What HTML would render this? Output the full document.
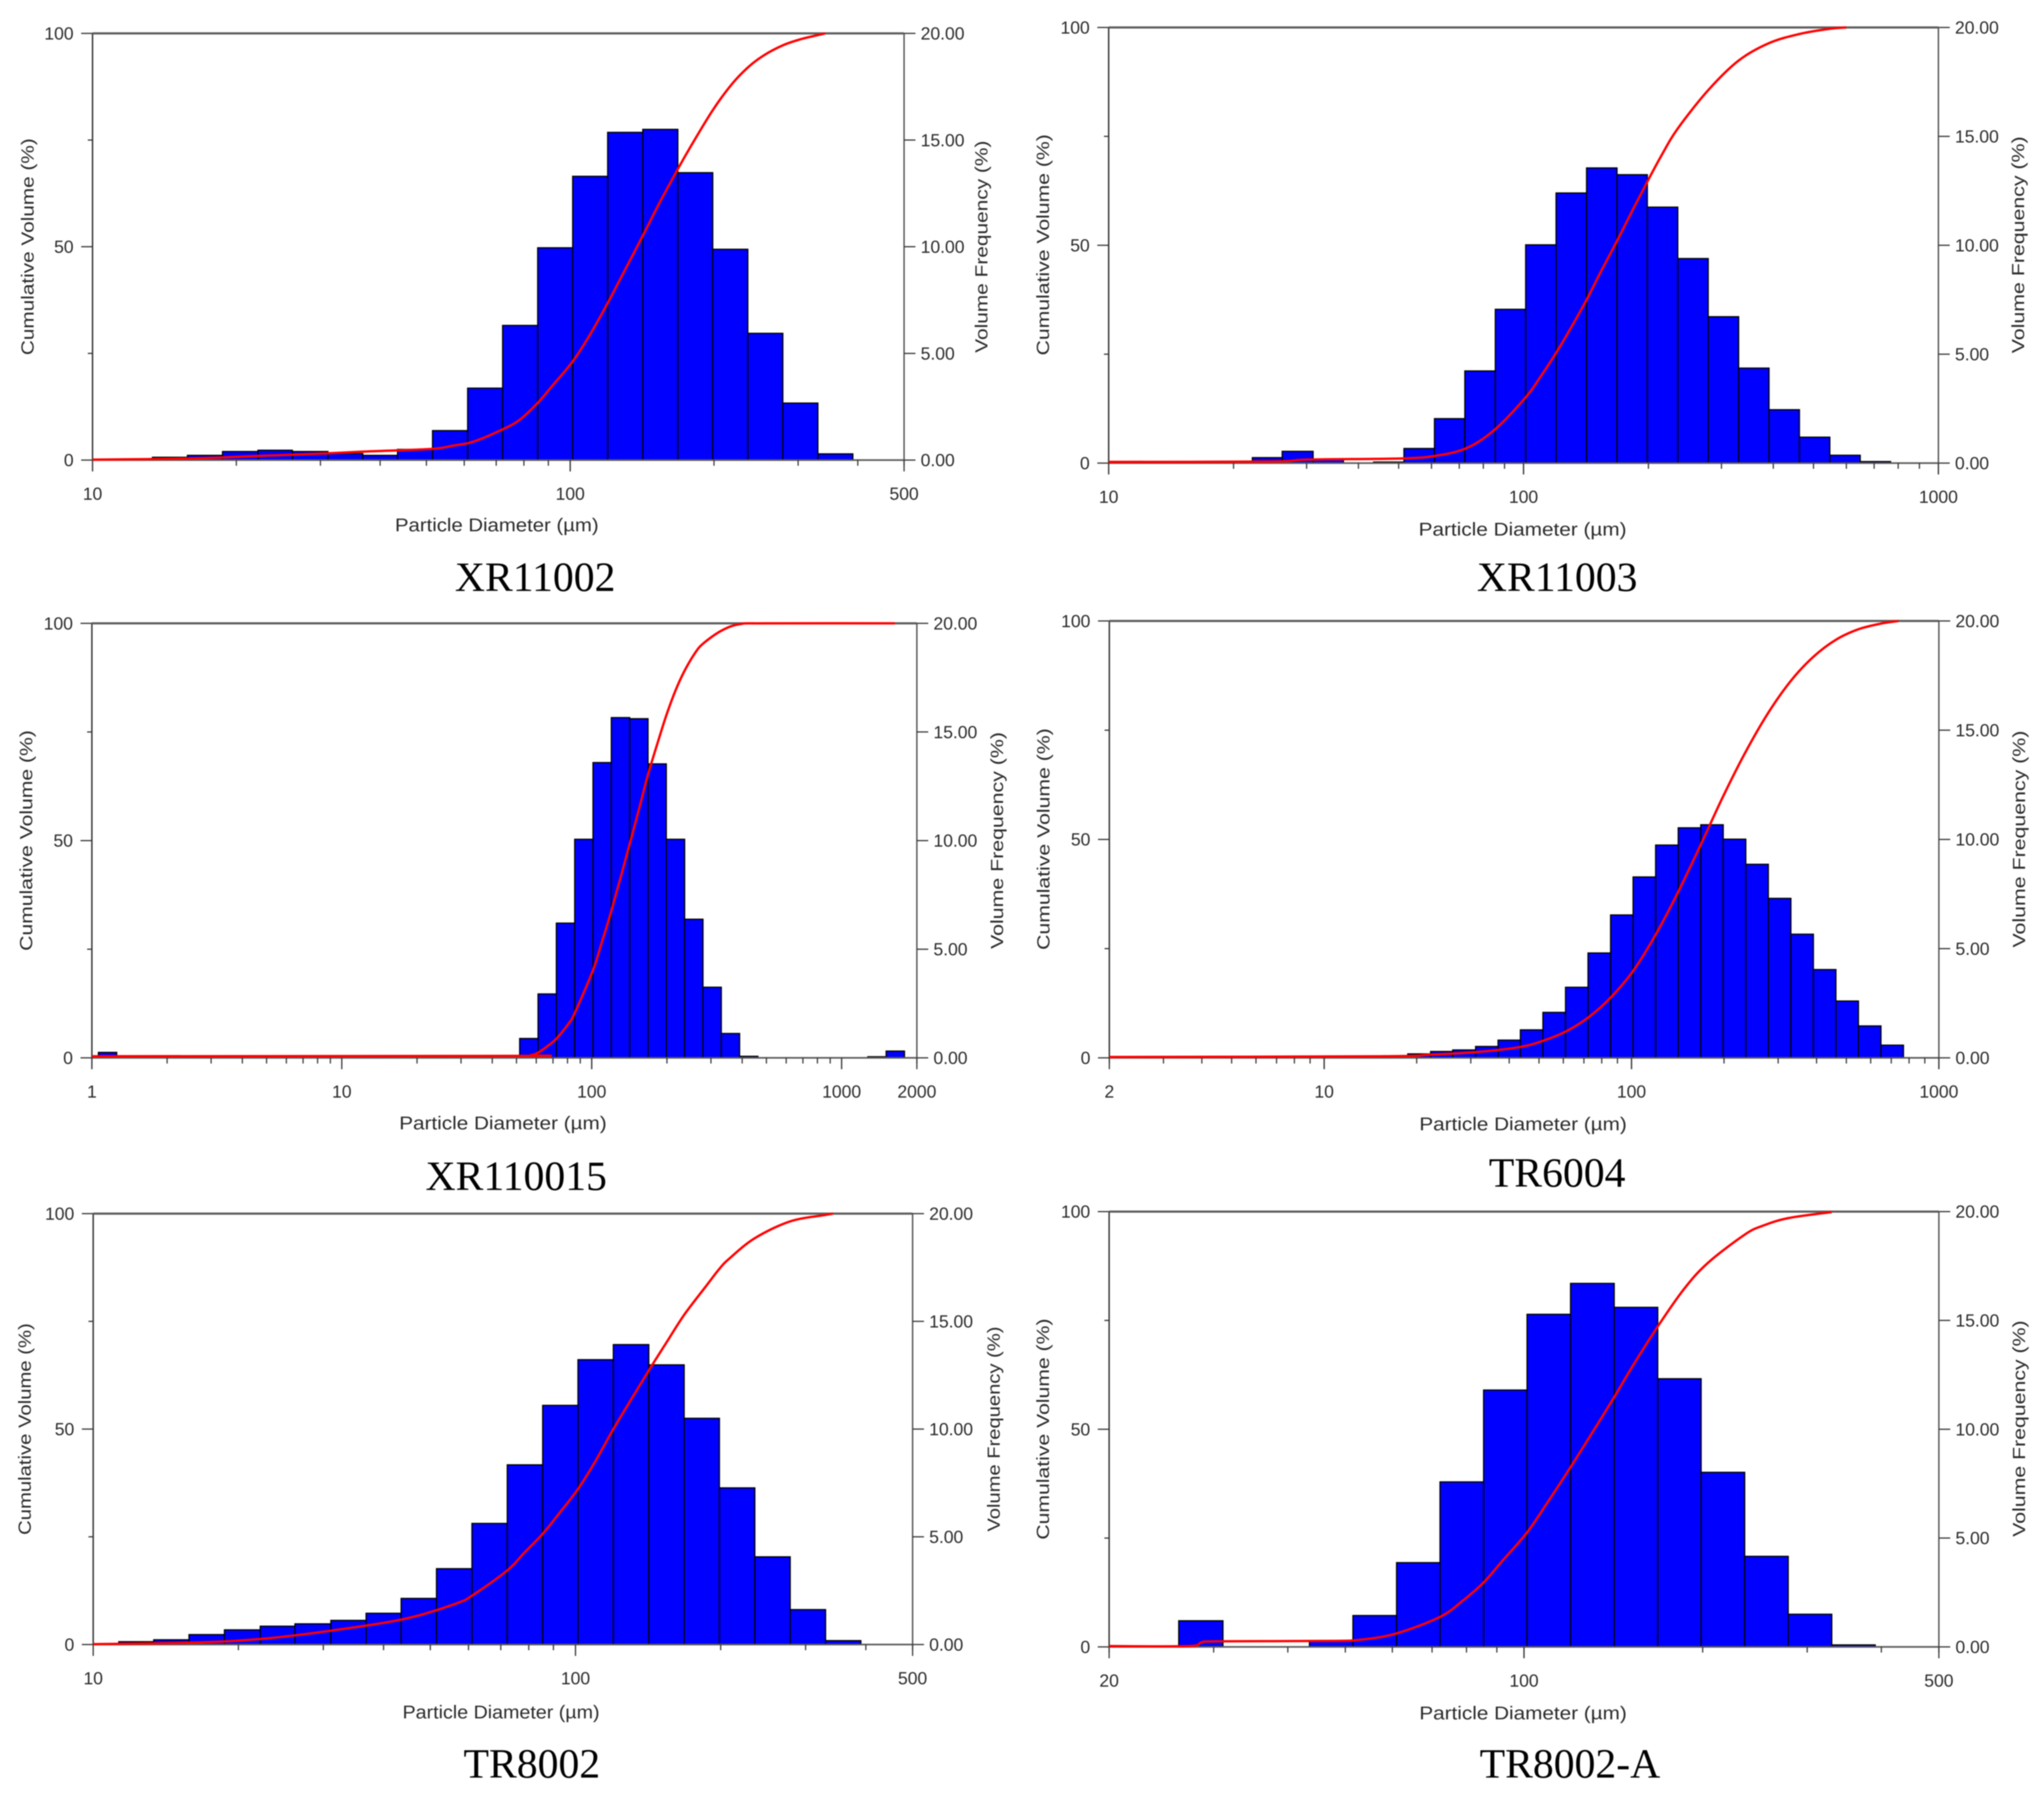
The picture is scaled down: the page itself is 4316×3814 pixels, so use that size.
<!DOCTYPE html>
<html lang="en">
<head>
<meta charset="utf-8">
<title>Particle size distributions</title>
<style>
html,body{margin:0;padding:0;background:#fff;}
#chart{display:block;width:4316px;height:3814px;filter:blur(1.1px);}
text{font-family:"Liberation Sans",sans-serif;fill:#2a2a2a;}
.caption{font-family:"Liberation Serif",serif;font-size:88px;fill:#000;text-anchor:middle;}
</style>
</head>
<body>
<svg id="chart" xmlns="http://www.w3.org/2000/svg" width="4316" height="3814" viewBox="0 0 4316 3814"></svg>
<script>
// ---- shared tick data ----
const leftMajorTicks = [0, 50, 100];
const leftMinorTicks = [25, 75];
const rightTicks = [0, 5, 10, 15, 20];

// ---- XR11002 ----
const xr11002Edges = [13.35,15.8,18.71,22.2,26.2,31.1,36.8,43.5,51.5,61,72.2,85.5,101.2,119.8,141.9,168,198.8,235.4,278.7,330,390.6];
const xr11002Freq = [0.13,0.22,0.40,0.46,0.40,0.30,0.22,0.50,1.38,3.37,6.31,9.95,13.3,15.36,15.5,13.47,9.88,5.94,2.67,0.29];
const xr11002CumD = [10,15.9,21.8,30.8,37.2,50.9,57,62.8,72.2,78.3,85.5,92.2,101.2,110,119.8,130,141.9,154,168,179,198.8,218,235.4,253.9,278.7,303,330,342];
const xr11002CumPct = [0.1,0.37,0.92,1.56,2.0,2.6,3.4,4.34,7.2,9.4,13.4,17.7,23.1,29.4,36.8,44.4,52.6,60.4,68.2,73.6,82,88.1,92,94.8,97.2,98.6,99.6,100];
const xr11002XLabels = [10,100,500];

// ---- XR11003 ----
const xr11003Edges = [22.2,26.2,31.1,36.8,43.5,51.5,61,72.2,85.5,101.2,119.8,141.9,168,198.8,235.4,278.7,330,390.6,462.4,547.4,648,767];
const xr11003Freq = [0.25,0.54,0.16,0,0.05,0.67,2.04,4.23,7.06,10.02,12.4,13.55,13.24,11.75,9.39,6.72,4.36,2.45,1.19,0.36,0.07];
const xr11003CumD = [10,24.4,30.4,51.3,62.6,73.5,85.5,101.2,110,119.8,130,141.9,153.7,168,183,198.8,215,235.4,278.7,330,390.6,462.4,547.4,600];
const xr11003CumPct = [0.27,0.36,0.81,1.08,1.8,3.6,7.8,15.1,19.9,25.3,31,37.5,44,51,58,64.6,70.6,76.8,85.6,92.4,96.4,98.5,99.7,100];
const xr11003XLabels = [10,100,1000];

// ---- XR110015 ----
const xr110015Edges = [1.062,1.257,51.5,61,72.2,85.5,101.2,119.8,141.9,168,198.8,235.4,278.7,330,390.6,462.4,1273,1507,1784];
const xr110015Freq = [0.25,0,0.89,2.94,6.2,10.06,13.59,15.66,15.61,13.53,10.06,6.38,3.25,1.12,0.07,0,0.05,0.31];
const xr110015CumD = [1,49.2,57,61,66.2,72.2,80.6,85.5,101.2,110,119.8,141.9,155,168,184.7,198.8,216.6,234.9,258,278.7,330,390.6,500,1631];
const xr110015CumPct = [0.36,0.45,0.6,1.2,2.6,4.4,7.8,10.3,20.2,26.8,33.8,49.2,57.5,65.2,73,78.8,84.6,89,93,95.3,98.3,99.8,100,100];
const xr110015XLabels = [1,10,100,1000,2000];

// ---- TR6004 ----
const tr6004Edges = [18.71,22.2,26.2,31.1,36.8,43.5,51.5,61,72.2,85.5,101.2,119.8,141.9,168,198.8,235.4,278.7,330,390.6,462.4,547.4,648,767];
const tr6004Freq = [0.18,0.29,0.36,0.52,0.81,1.28,2.08,3.23,4.8,6.54,8.28,9.74,10.53,10.67,10.01,8.86,7.3,5.66,4.04,2.6,1.46,0.58];
const tr6004CumD = [2,15.3,22,31.8,43.5,51.5,61,72.2,85.5,101.2,119.8,141.9,168,198.8,235.4,278.7,330,390.6,462.4,547.4,648,739];
const tr6004CumPct = [0.18,0.36,0.72,1.35,2.5,3.9,6.0,9.2,13.8,19.9,28.2,38,48.8,59.9,70.1,79,86.3,91.8,95.7,98.1,99.4,100];
const tr6004XLabels = [2,10,100,1000];

// ---- TR8002 ----
const tr8002Edges = [11.3,13.35,15.8,18.71,22.2,26.2,31.1,36.8,43.5,51.5,61,72.2,85.5,101.2,119.8,141.9,168,198.8,235.4,278.7,330,390.6];
const tr8002Freq = [0.13,0.22,0.46,0.68,0.85,0.96,1.12,1.45,2.14,3.52,5.62,8.34,11.1,13.22,13.92,12.98,10.5,7.27,4.07,1.62,0.18];
const tr8002CumD = [10,16.3,22.2,30.3,44,56.5,61.5,72.2,78.3,85.5,92.6,101.2,109.5,119.8,130,141.9,154.6,168,186,198.8,208.6,235.4,278.7,330,342];
const tr8002CumPct = [0.09,0.46,1.29,3.04,5.9,9.5,11.6,17.2,21.3,25.7,30.5,36.1,42.2,50,56.6,63.6,70.2,76.5,83,87.2,89.6,94.3,98.2,99.7,100];
const tr8002XLabels = [10,100,500];

// ---- TR8002-A ----
const tr8002aEdges = [26.2,31.1,36.8,43.5,51.5,61,72.2,85.5,101.2,119.8,141.9,168,198.8,235.4,278.7,330,390.6];
const tr8002aFreq = [1.2,0,0,0.27,1.44,3.87,7.58,11.8,15.28,16.7,15.6,12.32,8.02,4.16,1.5,0.09];
const tr8002aCumD = [20,27.2,28.6,30.4,46.7,53,61,72.2,79,85.5,92,101.2,109.8,119.8,130,141.9,152.4,168,186,204,235.4,252,278.7,330];
const tr8002aCumPct = [0.18,0.18,1.0,1.28,1.37,1.64,3.1,6.9,10.7,14.8,19.8,26.3,33.4,41.3,49,57.4,64.5,73.6,82.2,88.2,94.7,96.7,98.5,99.9];
const tr8002aXLabels = [20,100,500];

// ---- panel layout (frames and label placement only) ----
const panels = [
 {id:'xr11002', cap:'XR11002', edges:xr11002Edges, freq:xr11002Freq, cumD:xr11002CumD, cumPct:xr11002CumPct, xLabels:xr11002XLabels,
  l:195.4,r:1909,t:70.5,b:971.6, capX:1130,capY:1248, xtX:1049,xtY:1108,xtW:430, ltX:58,ltY:521,ltW:458, rtX:2072,rtY:521,rtW:448},
 {id:'xr11003', cap:'XR11003', edges:xr11003Edges, freq:xr11003Freq, cumD:xr11003CumD, cumPct:xr11003CumPct, xLabels:xr11003XLabels,
  l:2341,r:4093,t:58,b:978, capX:3288,capY:1248, xtX:3215,xtY:1117,xtW:439, ltX:2202,ltY:517,ltW:467, rtX:4261,rtY:517,rtW:458},
 {id:'xr110015', cap:'XR110015', edges:xr110015Edges, freq:xr110015Freq, cumD:xr110015CumD, cumPct:xr110015CumPct, xLabels:xr110015XLabels,
  l:194,r:1936,t:1316.4,b:2234, capX:1090,capY:2513, xtX:1062,xtY:2371,xtW:438, ltX:55,ltY:1775,ltW:466, rtX:2105,rtY:1775,rtW:458},
 {id:'tr6004', cap:'TR6004', edges:tr6004Edges, freq:tr6004Freq, cumD:tr6004CumD, cumPct:tr6004CumPct, xLabels:tr6004XLabels,
  l:2342.4,r:4094,t:1311.4,b:2234, capX:3288,capY:2506, xtX:3216,xtY:2373,xtW:438, ltX:2203,ltY:1772,ltW:468, rtX:4263,rtY:1772,rtW:458},
 {id:'tr8002', cap:'TR8002', edges:tr8002Edges, freq:tr8002Freq, cumD:tr8002CumD, cumPct:tr8002CumPct, xLabels:tr8002XLabels,
  l:196.8,r:1927,t:2563,b:3473, capX:1123,capY:3754, xtX:1058,xtY:3615,xtW:416, ltX:52,ltY:3018,ltW:447, rtX:2098,rtY:3018,rtW:433},
 {id:'tr8002-a', cap:'TR8002-A', edges:tr8002aEdges, freq:tr8002aFreq, cumD:tr8002aCumD, cumPct:tr8002aCumPct, xLabels:tr8002aXLabels,
  l:2342,r:4094,t:2558.7,b:3478, capX:3315,capY:3754, xtX:3216,xtY:3617,xtW:438, ltX:2202,ltY:3018,ltW:467, rtX:4263,rtY:3017,rtW:457}
];

const NS = 'http://www.w3.org/2000/svg';
const svg = document.getElementById('chart');

function make(tag, parent, props) {
  const node = document.createElementNS(NS, tag);
  for (const k in props) node.setAttribute(k, props[k]);
  parent.appendChild(node);
  return node;
}

function smoothPath(pts) {
  let d = 'M' + pts[0][0].toFixed(1) + ' ' + pts[0][1].toFixed(1);
  for (let i = 0; i < pts.length - 1; i++) {
    const p0 = pts[Math.max(0, i - 1)], p1 = pts[i], p2 = pts[i + 1], p3 = pts[Math.min(pts.length - 1, i + 2)];
    const c1x = p1[0] + (p2[0] - p0[0]) / 6, c1y = p1[1] + (p2[1] - p0[1]) / 6;
    const c2x = p2[0] - (p3[0] - p1[0]) / 6, c2y = p2[1] - (p3[1] - p1[1]) / 6;
    d += 'C' + c1x.toFixed(1) + ' ' + c1y.toFixed(1) + ' ' + c2x.toFixed(1) + ' ' + c2y.toFixed(1) + ' ' + p2[0].toFixed(1) + ' ' + p2[1].toFixed(1);
  }
  return d;
}

function minorDecadeTicks(min, max) {
  const out = [];
  for (let dec = Math.floor(Math.log10(min)); dec <= Math.ceil(Math.log10(max)); dec++) {
    for (let m = 1; m <= 9; m++) {
      const v = m * Math.pow(10, dec);
      if (v >= min && v <= max) out.push(v);
    }
  }
  return out;
}

function drawPanel(p) {
  const xMin = p.xLabels[0], xMax = p.xLabels[p.xLabels.length - 1];
  const xScale = v => p.l + (p.r - p.l) * Math.log10(v / xMin) / Math.log10(xMax / xMin);
  const yFreq = v => p.b - (p.b - p.t) * v / 20;
  const yCum = v => p.b - (p.b - p.t) * v / 100;

  const g = make('g', svg, {});
  
  

  // histogram bars
  const barGroup = make('g', g, {});
  
  
  p.freq.forEach((v, i) => {
    if (v <= 0) return;
    const x0 = xScale(p.edges[i]), x1 = xScale(p.edges[i + 1]);
    const rect = make('rect', barGroup, {x: x0, y: yFreq(v), width: x1 - x0, height: p.b - yFreq(v), fill: '#0000ff', stroke: '#000', 'stroke-width': 2.6});
    
    
  });

  // axis lines
  const frame = make('g', g, {});
  
  
  make('line', frame, {x1: p.l, x2: p.l, y1: p.t, y2: p.b, stroke: '#333', 'stroke-width': 3});
  make('line', frame, {x1: p.r, x2: p.r, y1: p.t, y2: p.b, stroke: '#555', 'stroke-width': 3});
  make('line', frame, {x1: p.l, x2: p.r, y1: p.t, y2: p.t, stroke: '#5a5a5a', 'stroke-width': 4.5});
  make('line', frame, {x1: p.l, x2: p.r, y1: p.b, y2: p.b, stroke: '#5a5a5a', 'stroke-width': 3.5});

  // x ticks
  minorDecadeTicks(xMin, xMax).forEach(v => {
    const major = Math.abs(Math.log10(v) - Math.round(Math.log10(v))) < 1e-6;
    make('line', frame, {x1: xScale(v), x2: xScale(v), y1: p.b, y2: p.b + (major ? 24 : 12), stroke: '#333', 'stroke-width': 2.5});
  });
  p.xLabels.forEach(v => {
    make('line', frame, {x1: xScale(v), x2: xScale(v), y1: p.b, y2: p.b + 24, stroke: '#333', 'stroke-width': 2.5});
    const t = make('text', g, {x: xScale(v), y: p.b + 84, 'font-size': 37, 'text-anchor': 'middle'});
    
    
    t.textContent = String(v);
  });

  // left ticks
  leftMajorTicks.forEach(v => {
    make('line', frame, {x1: p.l - 24, x2: p.l, y1: yCum(v), y2: yCum(v), stroke: '#333', 'stroke-width': 2.5});
    const t = make('text', g, {x: p.l - 40, y: yCum(v) + 13, 'font-size': 37, 'text-anchor': 'end'});
    
    
    t.textContent = String(v);
  });
  leftMinorTicks.forEach(v => {
    make('line', frame, {x1: p.l - 10, x2: p.l, y1: yCum(v), y2: yCum(v), stroke: '#333', 'stroke-width': 2.5});
  });

  // right ticks
  rightTicks.forEach(v => {
    make('line', frame, {x1: p.r, x2: p.r + 24, y1: yFreq(v), y2: yFreq(v), stroke: '#333', 'stroke-width': 2.5});
    const t = make('text', g, {x: p.r + 35, y: yFreq(v) + 13, 'font-size': 37});
    
    
    t.textContent = v.toFixed(2);
  });

  // cumulative curve
  const pts = p.cumD.map((d, i) => [xScale(d), yCum(p.cumPct[i])]);
  const curve = make('path', g, {d: smoothPath(pts), fill: 'none', stroke: '#ff0000', 'stroke-width': 5, 'stroke-linejoin': 'round'});
  
  

  // axis titles
  const xt = make('text', g, {x: p.xtX, y: p.xtY + 14, 'font-size': 39, 'text-anchor': 'middle', textLength: p.xtW, lengthAdjust: 'spacingAndGlyphs'});
  
  
  xt.textContent = 'Particle Diameter (µm)';

  const lt = make('text', g, {transform: 'translate(' + (p.ltX + 13) + ' ' + p.ltY + ') rotate(-90)', 'font-size': 37, 'text-anchor': 'middle', textLength: p.ltW, lengthAdjust: 'spacingAndGlyphs'});
  
  
  lt.textContent = 'Cumulative Volume (%)';

  const rt = make('text', g, {transform: 'translate(' + (p.rtX + 13) + ' ' + p.rtY + ') rotate(-90)', 'font-size': 37, 'text-anchor': 'middle', textLength: p.rtW, lengthAdjust: 'spacingAndGlyphs'});
  
  
  rt.textContent = 'Volume Frequency (%)';

  // caption
  const cap = make('text', g, {x: p.capX, y: p.capY, 'class': 'caption'});
  
  
  cap.textContent = p.cap;
}

panels.forEach(drawPanel);
</script>
</body>
</html>
